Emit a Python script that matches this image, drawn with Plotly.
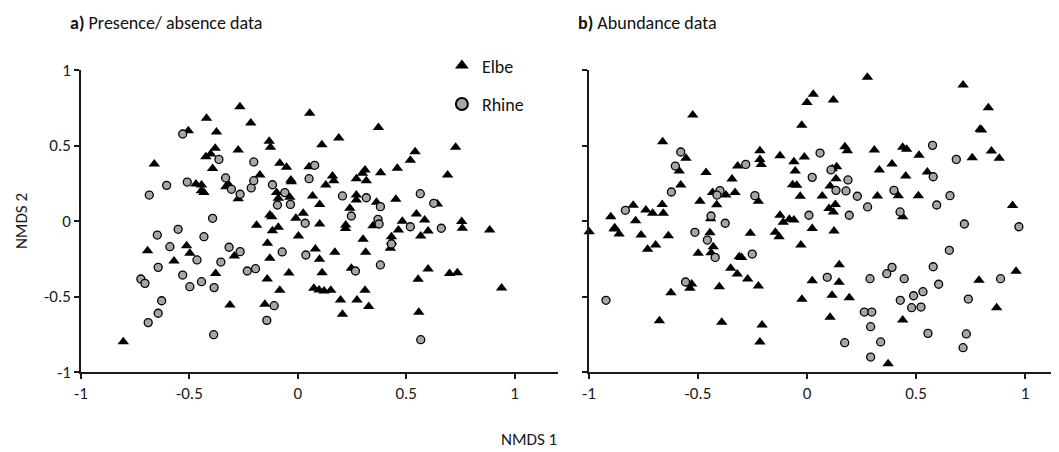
import plotly.graph_objects as go
from plotly.subplots import make_subplots

# ------------------------------------------------------------------------------
# NMDS scores

# a) presence / absence
pa_elbe_x = [-0.662, -0.505, -0.421, -0.375, -0.267, -0.217, -0.381, -0.424, -0.402, -0.393,
             -0.275, -0.132, -0.126, -0.083, -0.052, -0.175, -0.47, -0.444, -0.433, -0.445,
             -0.332, -0.321, -0.275, -0.098, -0.09, -0.032, -0.03, -0.037, -0.129, -0.12,
             -0.009, 0.025, 0.055, 0.052, -0.19, -0.117, -0.09, 0.372, 0.111, 0.189,
             0.541, 0.519, 0.728, 0.691, 0.459, 0.382, 0.31, 0.298, 0.27, 0.316,
             0.16, 0.166, 0.129, 0.068, 0.101, 0.27, 0.27, 0.24, 0.363, 0.452,
             0.101, 0.221, 0.22, 0.347, 0.482, 0.547, 0.585, 0.644, 0.756, 0.759,
             0.885, 0.601, 0.567, 0.464, 0.432, 0.432, 0.427, 0.301, 0.313, 0.171,
             0.081, 0.1, 0.112, -0.041, 0.247, 0.074, 0.098, 0.121, 0.152, 0.197,
             0.206, 0.273, 0.31, 0.327, 0.555, 0.601, 0.558, 0.7, 0.736, 0.94,
             -0.693, -0.571, -0.513, -0.498, -0.379, -0.313, -0.293, -0.14, -0.129, -0.141,
             -0.152, -0.083, 0.003, -0.805]
pa_elbe_y = [0.377, 0.598, 0.68, 0.589, 0.757, 0.649, 0.481, 0.426, 0.444, 0.347,
             0.47, 0.528, 0.488, 0.382, 0.356, 0.305, 0.245, 0.238, 0.188, 0.2,
             0.227, 0.245, 0.148, 0.188, 0.15, 0.272, 0.26, 0.157, 0.04, 0.028,
             0.018, 0.051, 0.713, 0.36, -0.028, -0.064, -0.042, 0.62, 0.505, 0.55,
             0.459, 0.402, 0.488, 0.305, 0.349, 0.32, 0.338, 0.316, 0.28, 0.267,
             0.298, 0.267, 0.238, 0.166, 0.11, 0.172, 0.139, 0.084, 0.124, 0.144,
             -0.02, -0.026, -0.05, -0.031, -0.002, 0.046, 0.007, 0.113, -0.003, -0.048,
             -0.06, -0.066, -0.099, -0.06, -0.104, -0.137, -0.181, -0.121, -0.207, -0.207,
             -0.185, -0.254, -0.342, -0.345, -0.313, -0.446, -0.457, -0.464, -0.459, -0.523,
             -0.618, -0.523, -0.459, -0.567, -0.386, -0.318, -0.605, -0.347, -0.342, -0.444,
             -0.197, -0.265, -0.164, -0.214, -0.347, -0.556, -0.232, -0.148, -0.247, -0.384,
             -0.552, -0.459, -0.099, -0.799]

pa_rhine_x = [-0.531, -0.364, -0.203, -0.685, -0.605, -0.51, -0.333, -0.306, -0.266, -0.215,
              -0.203, -0.117, -0.06, -0.094, -0.034, 0.052, -0.393, 0.034, -0.552, 0.078,
              0.206, 0.316, 0.381, 0.565, 0.627, 0.247, 0.37, 0.375, 0.519, 0.662,
              -0.648, -0.433, -0.59, -0.644, -0.724, -0.705, -0.531, -0.465, -0.498, -0.444,
              -0.386, -0.355, -0.317, -0.266, -0.233, -0.195, -0.628, -0.644, -0.69, -0.388,
              -0.109, -0.143, -0.072, 0.037, 0.432, 0.266, 0.381, 0.567]
pa_rhine_y = [0.576, 0.408, 0.391, 0.172, 0.236, 0.258, 0.285, 0.21, 0.177, 0.219,
              0.267, 0.24, 0.188, 0.106, 0.11, 0.28, 0.018, -0.015, -0.055, 0.369,
              0.166, 0.154, 0.095, 0.181, 0.117, 0.033, 0.011, -0.02, -0.038, -0.048,
              -0.093, -0.104, -0.17, -0.307, -0.384, -0.413, -0.358, -0.258, -0.435, -0.402,
              -0.441, -0.272, -0.174, -0.203, -0.331, -0.316, -0.528, -0.611, -0.673, -0.753,
              -0.561, -0.658, -0.205, -0.225, -0.152, -0.331, -0.291, -0.786]

# b) abundance
ab_elbe_x = [-0.524, -0.662, 0.029, 0.0, -0.024, -0.555, -0.586, -0.579, -0.463, -0.491,
             -0.433, -0.414, -0.372, -0.344, -0.318, -0.33, -0.216, -0.216, -0.21, -0.223,
             -0.124, -0.06, -0.054, -0.066, -0.047, -0.031, -0.012, 0.07, -0.797, -0.9,
             -0.882, -0.786, -0.739, -0.708, -0.664, -0.659, -0.442, -0.124, -0.109, -0.081,
             -0.06, 0.024, 0.277, 0.121, 0.716, 0.832, 0.794, 0.801, 0.758, 0.846,
             0.882, 0.174, 0.185, 0.309, 0.439, 0.457, 0.514, 0.39, 0.332, 0.453,
             0.552, 0.136, 0.116, 0.133, 0.106, 0.323, 0.419, 0.511, 0.13, 0.101,
             0.121, 0.439, 0.943, -0.999, -0.884, -0.862, -0.761, -0.731, -0.694, -0.636,
             -0.624, -0.677, -0.499, -0.445, -0.43, -0.44, -0.529, -0.537, -0.402, -0.391,
             -0.311, -0.3, -0.35, -0.32, -0.272, -0.223, -0.26, -0.206, -0.216, -0.145,
             -0.128, -0.028, 0.024, -0.023, 0.124, 0.148, 0.147, 0.115, 0.194, 0.106,
             0.439, 0.372, 0.789, 0.87, 0.959]
ab_elbe_y = [0.702, 0.525, 0.839, 0.784, 0.634, 0.415, 0.331, 0.238, 0.322, 0.13,
             0.188, 0.108, 0.172, 0.278, 0.364, 0.188, 0.466, 0.408, 0.375, 0.13,
             0.432, 0.393, 0.331, 0.24, 0.236, 0.164, 0.424, 0.165, 0.104, 0.028,
             -0.044, 0.002, 0.073, 0.051, 0.11, 0.051, 0.015, 0.038, -0.009, 0.011,
             0.007, -0.05, 0.952, 0.801, 0.901, 0.75, 0.607, 0.603, 0.419, 0.464,
             0.415, 0.492, 0.466, 0.47, 0.488, 0.475, 0.435, 0.377, 0.338, 0.298,
             0.325, 0.36, 0.346, 0.28, 0.232, 0.166, 0.168, 0.168, 0.11, 0.082,
             0.06, 0.028, 0.102, -0.071, -0.053, -0.086, -0.093, -0.187, -0.159, -0.097,
             -0.475, -0.66, -0.214, -0.077, -0.17, -0.21, -0.417, -0.446, -0.435, -0.671,
             -0.236, -0.241, -0.313, -0.351, -0.384, -0.43, -0.081, -0.689, -0.801, -0.075,
             -0.104, -0.159, -0.395, -0.519, -0.066, -0.289, -0.406, -0.492, -0.508, -0.638,
             -0.656, -0.945, -0.393, -0.574, -0.333]

ab_rhine_x = [-0.579, -0.604, -0.622, -0.833, -0.399, -0.413, -0.281, -0.239, -0.44, -0.375,
              0.024, 0.009, 0.06, 0.576, 0.685, 0.11, 0.188, 0.133, 0.179, 0.231,
              0.399, 0.579, 0.656, 0.595, 0.278, 0.194, 0.427, 0.722, 0.972, -0.922,
              -0.514, -0.457, -0.421, -0.251, -0.557, 0.653, 0.579, 0.604, 0.39, 0.366,
              0.289, 0.446, 0.093, 0.532, 0.489, 0.428, 0.48, 0.523, 0.74, 0.888,
              0.263, 0.297, 0.292, 0.173, 0.338, 0.292, 0.555, 0.731, 0.716]
ab_rhine_y = [0.457, 0.364, 0.192, 0.071, 0.201, 0.172, 0.375, 0.168, 0.033, -0.015,
              0.289, 0.038, 0.45, 0.501, 0.408, 0.338, 0.272, 0.203, 0.199, 0.164,
              0.203, 0.293, 0.168, 0.106, 0.093, 0.038, 0.06, -0.02, -0.038, -0.525,
              -0.075, -0.126, -0.241, -0.219, -0.404, -0.194, -0.303, -0.419, -0.307, -0.349,
              -0.382, -0.382, -0.373, -0.468, -0.495, -0.525, -0.574, -0.57, -0.517, -0.382,
              -0.603, -0.603, -0.7, -0.806, -0.801, -0.901, -0.744, -0.748, -0.839]

tick_vals = [-1, -0.5, 0, 0.5, 1]
tick_text = ['-1', '-0.5', '0', '0.5', '1']

# ------------------------------------------------------------------------------

FONT = 'Carlito, Lato, "Open Sans", sans-serif'
GREY = '#a6a6a6'

tri = dict(symbol='triangle-up', size=10, color='black', line=dict(width=0))
circ = dict(symbol='circle', size=8, color=GREY, line=dict(color='black', width=1.3))

fig = make_subplots(rows=1, cols=2)

panels = [(pa_elbe_x, pa_elbe_y, pa_rhine_x, pa_rhine_y),
          (ab_elbe_x, ab_elbe_y, ab_rhine_x, ab_rhine_y)]

for i, (ex, ey, rx, ry) in enumerate(panels):
    fig.add_trace(go.Scatter(x=ex, y=ey, mode='markers', marker=tri, name='Elbe',
                             legendgroup='elbe', showlegend=(i == 0), cliponaxis=False),
                  row=1, col=i + 1)
    fig.add_trace(go.Scatter(x=rx, y=ry, mode='markers', marker=circ, name='Rhine',
                             legendgroup='rhine', showlegend=(i == 0), cliponaxis=False),
                  row=1, col=i + 1)

axis_style = dict(showline=True, linecolor='#1a1a1a', linewidth=1.5, ticks='outside',
                  ticklen=5, tickwidth=1.5, tickcolor='#1a1a1a', showgrid=False,
                  zeroline=False, tickvals=tick_vals, ticktext=tick_text,
                  tickfont=dict(size=17, color='#1a1a1a'))

fig.update_xaxes(axis_style)
fig.update_yaxes(axis_style)
fig.update_xaxes(range=[-1, 1.2], domain=[0, 0.4877], row=1, col=1)
fig.update_xaxes(range=[-1, 1.156], domain=[0.5194, 1], row=1, col=2)
fig.update_yaxes(range=[-1, 1])
fig.update_yaxes(showticklabels=False, row=1, col=2)
fig.update_yaxes(title_text='NMDS 2', title_font=dict(size=17, color='#1a1a1a'),
                 title_standoff=12, row=1, col=1)

# the page puts the figure 8px in from the top-left corner, so the
# figure is 8px smaller and the margins are 8px tighter
fig.add_annotation(text='<b>a)</b> Presence/ absence data', xref='paper', yref='paper',
                   x=-0.013, y=1.155, xanchor='left', yanchor='middle', showarrow=False,
                   font=dict(size=18, color='#111'))
fig.add_annotation(text='<b>b)</b> Abundance data', xref='paper', yref='paper',
                   x=0.506, y=1.155, xanchor='left', yanchor='middle', showarrow=False,
                   font=dict(size=18, color='#111'))
fig.add_annotation(text='NMDS 1', xref='paper', yref='paper',
                   x=0.458, y=-0.225, xanchor='center', yanchor='middle', showarrow=False,
                   font=dict(size=17, color='#1a1a1a'))

fig.update_layout(
    width=1051, height=444,
    margin=dict(l=73, r=0, t=62, b=80),
    plot_bgcolor='white', paper_bgcolor='white',
    font=dict(family=FONT, color='#1a1a1a'),
    legend=dict(x=0.369, y=1.075, xanchor='left', yanchor='top', itemsizing='constant',
                font=dict(size=18, color='#111'), tracegroupgap=12,
                bgcolor='rgba(0,0,0,0)'),
)

fig.write_html("out.html")
